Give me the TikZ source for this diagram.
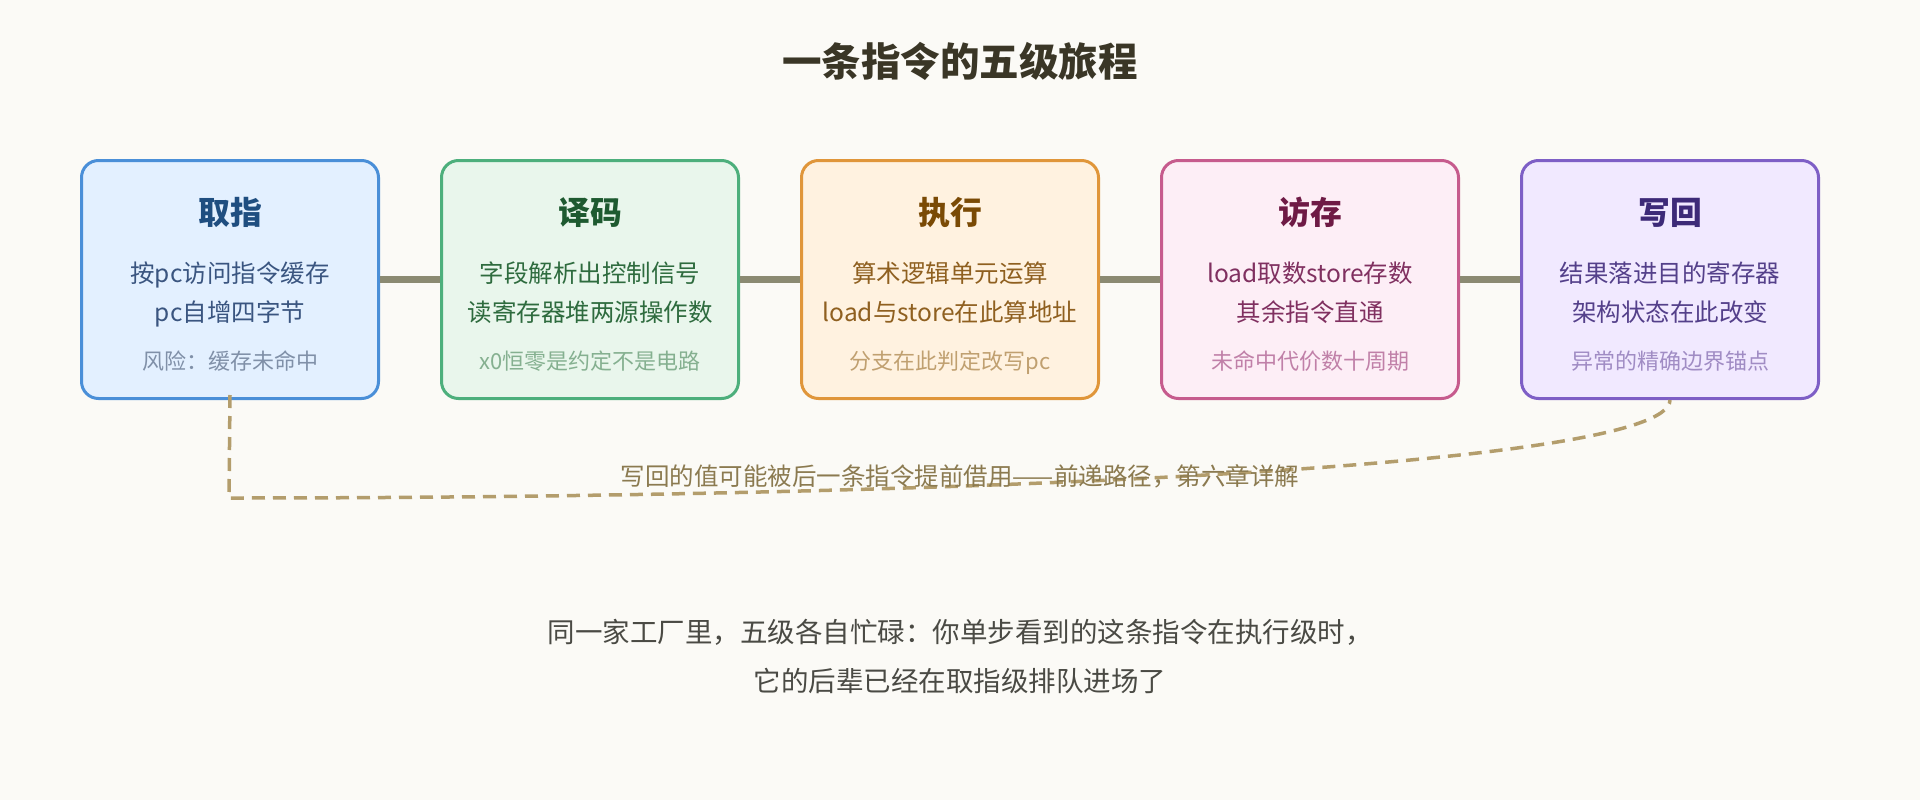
\documentclass[tikz,border=0pt]{standalone}
\usepackage{fontspec}
\setmainfont{Noto Sans CJK SC}
\definecolor{bg}{HTML}{FBFAF6}
\definecolor{ttl}{HTML}{3A3626}
\definecolor{conn}{HTML}{8B8A72}
\definecolor{fwdcol}{HTML}{B39D6C}
\definecolor{lbl}{HTML}{8B7A50}
\definecolor{foot}{HTML}{4A4A44}
% box 1
\definecolor{fA}{HTML}{E3F0FF}\definecolor{dA}{HTML}{4A8FD8}\definecolor{tA}{HTML}{1F4E80}\definecolor{bA}{HTML}{3A5580}\definecolor{sA}{HTML}{8090A8}
% box 2
\definecolor{fB}{HTML}{E9F6EC}\definecolor{dB}{HTML}{4DAF7C}\definecolor{tB}{HTML}{1E5A30}\definecolor{bB}{HTML}{2E6B3E}\definecolor{sB}{HTML}{85B090}
% box 3
\definecolor{fC}{HTML}{FFF2E0}\definecolor{dC}{HTML}{E0963A}\definecolor{tC}{HTML}{7A4A05}\definecolor{bC}{HTML}{8F6020}\definecolor{sC}{HTML}{C0A070}
% box 4
\definecolor{fD}{HTML}{FDEEF6}\definecolor{dD}{HTML}{C65B8D}\definecolor{tD}{HTML}{6E1A45}\definecolor{bD}{HTML}{803060}\definecolor{sD}{HTML}{C080A8}
% box 5
\definecolor{fE}{HTML}{F1E9FF}\definecolor{dE}{HTML}{7E5FC6}\definecolor{tE}{HTML}{3D2A78}\definecolor{bE}{HTML}{54408A}\definecolor{sE}{HTML}{A08CC4}
\tikzset{
  stagebox/.style={draw, line width=3pt, rounded corners=17pt, minimum width=297pt, minimum height=238pt, inner sep=0pt},
  stagetitle/.style={anchor=base, inner sep=0pt, font=\fontsize{31.8}{36}\selectfont\bfseries},
  stagebody/.style={anchor=base, inner sep=0pt, font=\fontsize{24.5}{28}\selectfont},
  stagenote/.style={anchor=base, inner sep=0pt, font=\fontsize{22}{26}\selectfont},
  link/.style={draw=conn, line width=6.5pt},
  fwd/.style={draw=fwdcol, line width=3.5pt, dash pattern=on 13pt off 8pt},
}
\begin{document}
\begin{tikzpicture}[x=1pt,y=-1pt]
\fill[bg] (0,0) rectangle (1920,800);
\useasboundingbox (0,0) rectangle (1920,800);
\node[anchor=base, inner sep=0pt, text=ttl, font=\fontsize{39.5}{44}\selectfont\bfseries] (title) at (960,76.4) {一条指令的五级旅程};

\node[stagebox, draw=dA, fill=fA] (b1) at (230,279.5) {};
\node[stagebox, draw=dB, fill=fB] (b2) at (590,279.5) {};
\node[stagebox, draw=dC, fill=fC] (b3) at (950,279.5) {};
\node[stagebox, draw=dD, fill=fD] (b4) at (1310,279.5) {};
\node[stagebox, draw=dE, fill=fE] (b5) at (1670,279.5) {};
\draw[link] (b1.east) -- (b2.west);
\draw[link] (b2.east) -- (b3.west);
\draw[link] (b3.east) -- (b4.west);
\draw[link] (b4.east) -- (b5.west);

\node[stagetitle, text=tA] (t1) at (230,224.8) {取指};
\node[stagebody, text=bA] (l1a) at (230,282) {按pc访问指令缓存};
\node[stagebody, text=bA] (l1b) at (230,321) {pc自增四字节};
\node[stagenote, text=sA] (n1) at (230,369) {风险：缓存未命中};

\node[stagetitle, text=tB] (t2) at (590,224.8) {译码};
\node[stagebody, text=bB] (l2a) at (590,282) {字段解析出控制信号};
\node[stagebody, text=bB] (l2b) at (590,321) {读寄存器堆两源操作数};
\node[stagenote, text=sB] (n2) at (590,369) {x0恒零是约定不是电路};

\node[stagetitle, text=tC] (t3) at (950,224.8) {执行};
\node[stagebody, text=bC] (l3a) at (950,282) {算术逻辑单元运算};
\node[stagebody, text=bC] (l3b) at (950,321) {load与store在此算地址};
\node[stagenote, text=sC] (n3) at (950,369) {分支在此判定改写pc};

\node[stagetitle, text=tD] (t4) at (1310,224.8) {访存};
\node[stagebody, text=bD] (l4a) at (1310,282) {load取数store存数};
\node[stagebody, text=bD] (l4b) at (1310,321) {其余指令直通};
\node[stagenote, text=sD] (n4) at (1310,369) {未命中代价数十周期};

\node[stagetitle, text=tE] (t5) at (1670,224.8) {写回};
\node[stagebody, text=bE] (l5a) at (1670,282) {结果落进目的寄存器};
\node[stagebody, text=bE] (l5b) at (1670,321) {架构状态在此改变};
\node[stagenote, text=sE] (n5) at (1670,369) {异常的精确边界锚点};

% forwarding path
\coordinate (corner) at (229,498);
\draw[fwd] ([yshift=5pt]b1.south) -- (corner) .. controls (900,498) and (1670,470) .. (b5.south);
\node[anchor=base, inner sep=0pt, text=lbl, font=\fontsize{24.5}{28}\selectfont] (fl) at (960,485) {写回的值可能被后一条指令提前借用——前递路径，第六章详解};

\node[anchor=base, inner sep=0pt, text=foot, font=\fontsize{27.5}{32}\selectfont] (f1) at (960,642.7) {同一家工厂里，五级各自忙碌：你单步看到的这条指令在执行级时，};
\node[anchor=base, inner sep=0pt, text=foot, font=\fontsize{27.5}{32}\selectfont] (f2) at (960,691.9) {它的后辈已经在取指级排队进场了};
\end{tikzpicture}
\end{document}
